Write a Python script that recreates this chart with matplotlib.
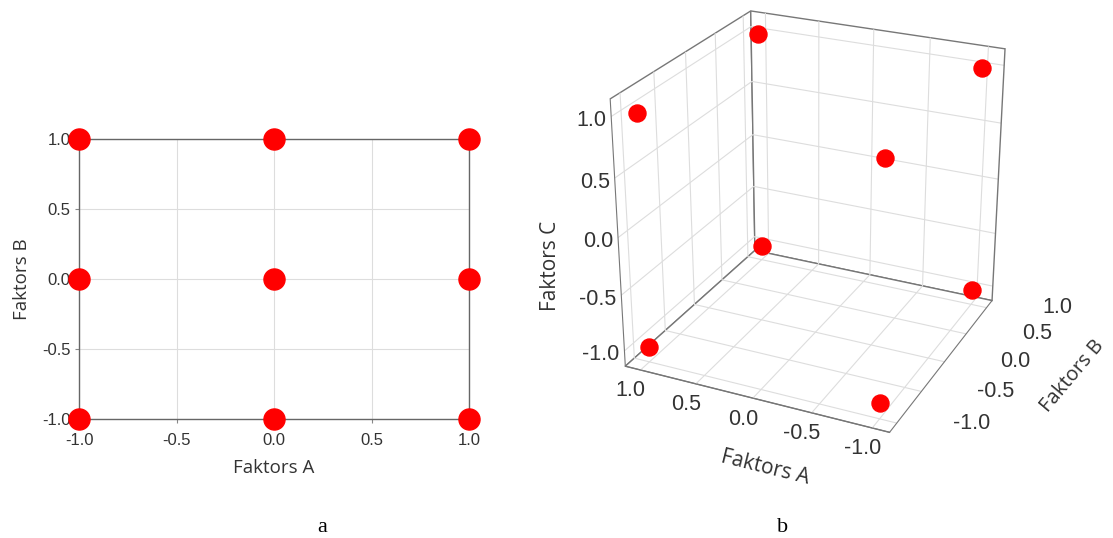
import matplotlib.pyplot as plt
import numpy as np
from mpl_toolkits.mplot3d import proj3d

# 2D design (3x3 full factorial)
a2 = [-1.0, 0.0, 1.0, -1.0, 0.0, 1.0, -1.0, 0.0, 1.0]
b2 = [1.0, 1.0, 1.0, 0.0, 0.0, 0.0, -1.0, -1.0, -1.0]

# 3D design (2^3 cube corners)
a3 = [1, -1, -1, 1, 1, 1, -1, -1]
b3 = [-1, -1, 1, 1, -1, 1, 1, -1]
c3 = [-1, -1, -1, -1, 1, 1, 1, 1]

ticks = [-1.0, -0.5, 0.0, 0.5, 1.0]
ticklabels = ["-1.0", "-0.5", "0.0", "0.5", "1.0"]
lim = 1.14

plt.rcParams['font.family'] = ['Open Sans', 'DejaVu Sans']
tickfont = ['Liberation Sans', 'DejaVu Sans']
txt = '#333333'

fig = plt.figure(figsize=(11.13, 5.38), dpi=100)

# ---- panel a ----
W, H = 1113, 538
ax = fig.add_axes([79 / W, 1 - 419 / H, (469 - 79) / W, (419 - 139) / H])
ax.scatter(a2, b2, s=230, color='#ff0000', zorder=3, clip_on=False)
ax.set_xlim(-1, 1)
ax.set_ylim(-1, 1)
ax.set_xticks(ticks)
ax.set_yticks(ticks)
ax.set_xticklabels(ticklabels, fontsize=12, color=txt, family=tickfont)
ax.set_yticklabels(ticklabels, fontsize=12, color=txt, family=tickfont)
ax.tick_params(axis='x', length=3, width=0.8, color='#888888', pad=7)
ax.tick_params(axis='y', length=3, width=0.8, color='#888888', pad=3)
ax.grid(True, color='#dddddd', linewidth=0.8)
for sp in ax.spines.values():
    sp.set_color('#666666')
    sp.set_linewidth(1.0)
ax.set_xlabel("Faktors A", fontsize=13.5, color=txt, labelpad=8)
ax.set_ylabel("Faktors B", fontsize=13.5, color=txt, labelpad=8)

# ---- panel b ----
ax3 = fig.add_axes([0.4915, 0.132, 0.47, 0.94], projection='3d')
ax3.scatter(a3, b3, c3, s=150, color='#ff0000', depthshade=False, alpha=1)
ax3.set_xlim(lim, -lim)
ax3.set_ylim(-lim, lim)
ax3.set_zlim(-lim, lim)
ax3.set_proj_type('persp', focal_length=0.6)
ax3.set_box_aspect((1, 1, 1), zoom=0.95)
ax3.view_init(elev=25, azim=-65)
for axis in (ax3.xaxis, ax3.yaxis, ax3.zaxis):
    axis.set_pane_color((1, 1, 1, 1))
    axis.pane.set_edgecolor('#777777')
    axis.pane.set_linewidth(1.0)
    axis._axinfo['grid']['color'] = '#dddddd'
    axis._axinfo['grid']['linewidth'] = 0.8
    axis._axinfo['tick']['inward_factor'] = 0.0
    axis._axinfo['tick']['outward_factor'] = 0.0
    axis.line.set_color('#777777')
# right vertical edge of the back pane
ax3.plot([-lim, -lim], [lim, lim], [-lim, lim], color='#777777', linewidth=1.0)
ax3.zaxis.set_ticks_position('lower')
ax3.set_xticks(ticks)
ax3.set_yticks(ticks)
ax3.set_zticks(ticks)
ax3.set_xticklabels([])
ax3.set_yticklabels([])
ax3.set_zticklabels([])

# tick labels and axis titles placed at projected edge points
M = ax3.get_proj()


def put(x, y, z, s, dx, dy, **kw):
    px, py, _ = proj3d.proj_transform(x, y, z, M)
    ax3.annotate(s, xy=(px, py), xycoords='data', xytext=(dx, dy),
                 textcoords='offset pixels', color=txt, **kw)


for t, lab in zip(ticks, ticklabels):
    put(t, -lim, -lim, lab, -10, -21, fontsize=15.5, family=tickfont, ha='center', va='center')
    put(-lim, t, -lim, lab, 56, 0, fontsize=15.5, family=tickfont, ha='left', va='center')
    put(lim, -lim, t, lab, -5, -4, fontsize=15.5, family=tickfont, ha='right', va='center')

put(0, -lim, -lim, "Faktors A", 12, -69, fontsize=15, ha='center', va='center', rotation=-14)
put(-lim, 0, -lim, "Faktors B", 128, -14, fontsize=14.5, ha='center', va='center', rotation=50)
put(lim, -lim, 0, "Faktors C", -68, -28, fontsize=15, ha='center', va='center', rotation=90)

fig.text(322 / W, 1 - 527 / H, "a", fontsize=16, family='Liberation Serif', ha='center', va='center')
fig.text(783 / W, 1 - 527 / H, "b", fontsize=16, family='Liberation Serif', ha='center', va='center')

fig.savefig("out.png", dpi=100)
